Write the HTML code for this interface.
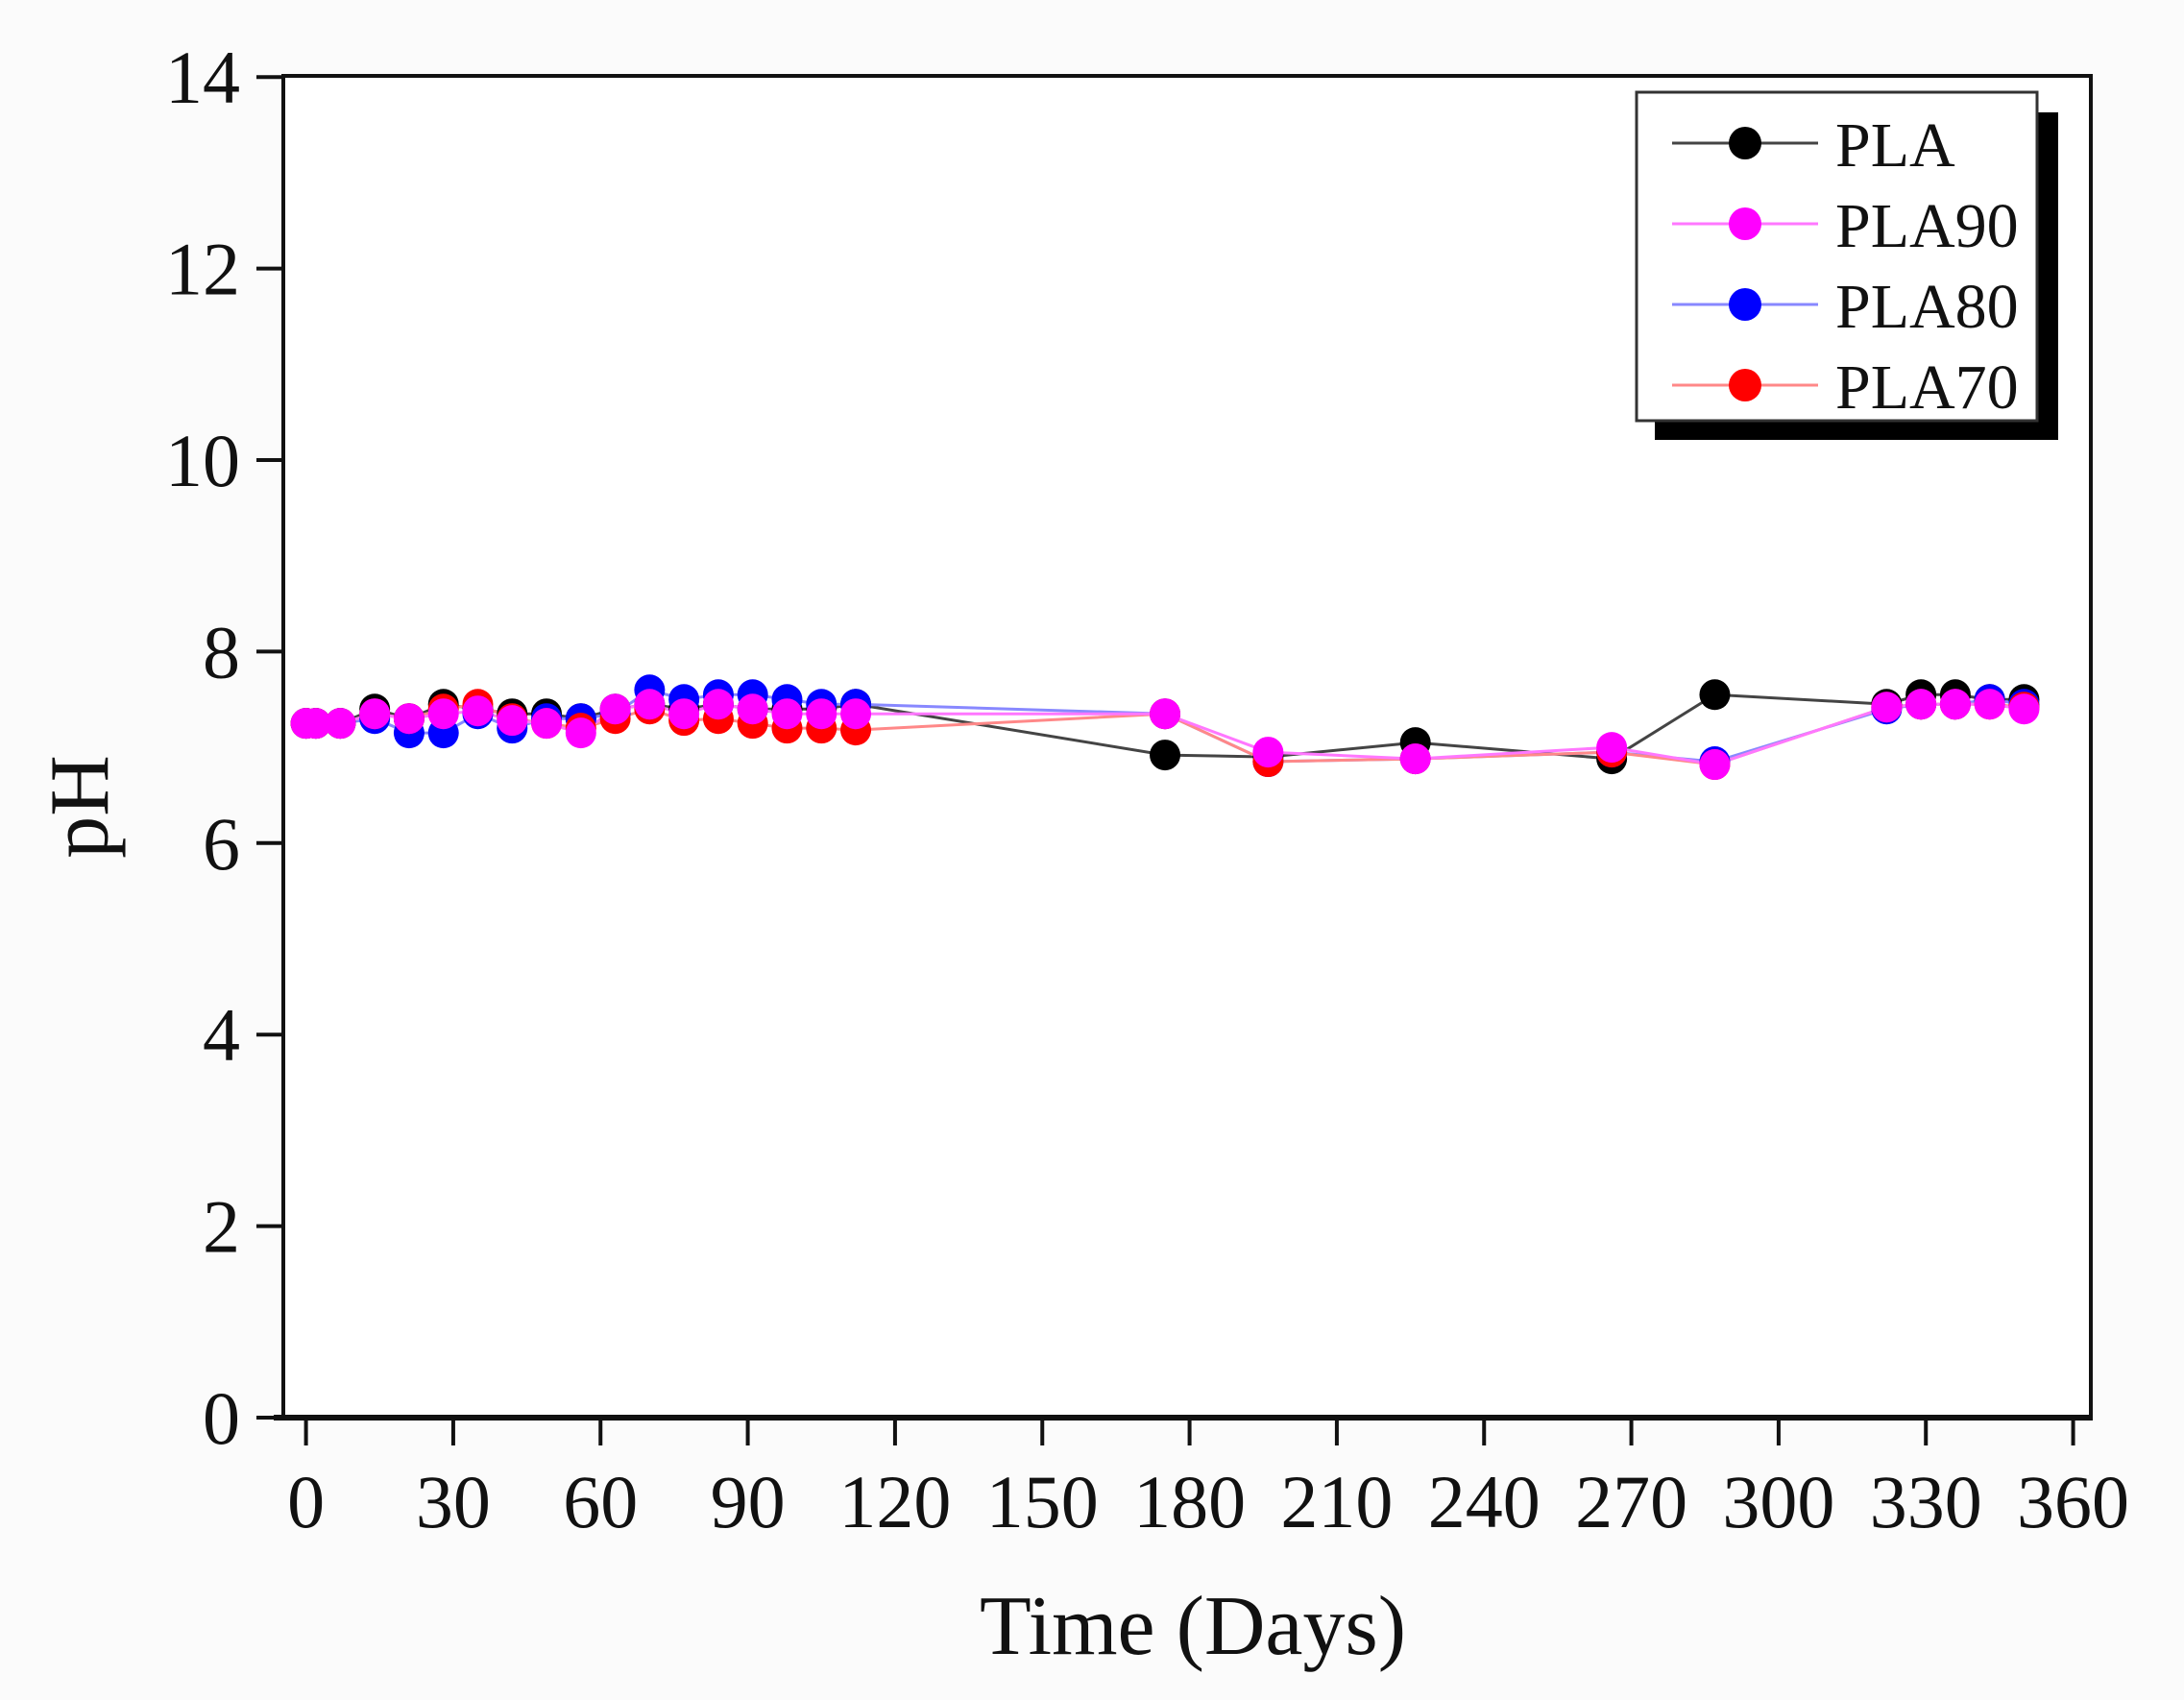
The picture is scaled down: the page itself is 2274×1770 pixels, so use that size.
<!DOCTYPE html>
<html><head><meta charset="utf-8"><style>
html,body{margin:0;padding:0;background:#fbfbfb;}
svg{display:block;font-family:"Liberation Serif",serif;}
</style></head><body>
<svg id="s" width="2274" height="1770" xmlns="http://www.w3.org/2000/svg">
<rect x="295" y="79" width="1882" height="1397" fill="#fff" stroke="#111" stroke-width="4"/>
<g id="ax"></g>
<g id="data"></g>
<text x="1242" y="1722" font-size="88" text-anchor="middle" fill="#111">Time (Days)</text>
<text transform="translate(112,840) rotate(-90)" font-size="88" text-anchor="middle" fill="#111">pH</text>
<rect x="1723" y="117" width="420" height="341" fill="#000"/>
<rect x="1704" y="96" width="417" height="342" fill="#fff" stroke="#333" stroke-width="3"/>
<g id="leg"></g>
</svg>
<script>
const NS="http://www.w3.org/2000/svg";
function el(p,t,a,txt){const e=document.createElementNS(NS,t);for(const k in a)e.setAttribute(k,a[k]);if(txt!==undefined)e.textContent=txt;p.appendChild(e);return e;}
const X=d=>318.6+d*5.111, Y=p=>1476-p*99.7;
const ax=document.getElementById('ax');
el(ax,'line',{x1:285,y1:1476,x2:2179,y2:1476,stroke:'#111','stroke-width':6});
for(let d=0;d<=360;d+=30){el(ax,'line',{x1:X(d),y1:1476,x2:X(d),y2:1505,stroke:'#111','stroke-width':4});
el(ax,'text',{x:X(d),y:1590,'font-size':78,'text-anchor':'middle',fill:'#111'},String(d));}
for(let p=0;p<=14;p+=2){el(ax,'line',{x1:267,y1:Y(p),x2:295,y2:Y(p),stroke:'#111','stroke-width':4});
el(ax,'text',{x:250,y:Y(p)+27,'font-size':78,'text-anchor':'end',fill:'#111'},String(p));}
const days=[0,2,7,14,21,28,35,42,49,56,63,70,77,84,91,98,105,112,175,196,226,266,287,322,329,336,343,350];
const S=[
 ['#000','#444',[7.25,7.25,7.25,7.4,7.3,7.45,7.4,7.35,7.35,7.3,7.4,7.45,7.4,7.45,7.4,7.4,7.4,7.45,6.92,6.9,7.05,6.88,7.55,7.45,7.55,7.55,7.5,7.5]],
 ['#0000ff','#8888ff',[7.25,7.25,7.25,7.3,7.15,7.15,7.35,7.2,7.3,7.3,7.35,7.6,7.5,7.55,7.55,7.5,7.45,7.45,7.35,6.85,6.88,6.95,6.85,7.4,7.45,7.45,7.5,7.45]],
 ['#ff0000','#ff8888',[7.25,7.25,7.25,7.35,7.3,7.4,7.45,7.3,7.25,7.2,7.3,7.4,7.28,7.3,7.25,7.2,7.2,7.18,7.35,6.85,6.88,6.95,6.82,7.42,7.45,7.45,7.45,7.42]],
 ['#ff00ff','#ff77ff',[7.25,7.25,7.25,7.35,7.3,7.35,7.38,7.28,7.25,7.15,7.4,7.45,7.35,7.45,7.4,7.35,7.35,7.35,7.35,6.95,6.88,7.0,6.82,7.42,7.45,7.45,7.45,7.4]]
];
const g=document.getElementById('data');
S.forEach(([c,lc,v])=>{el(g,'polyline',{points:days.map((d,i)=>X(d)+','+Y(v[i])).join(' '),fill:'none',stroke:lc,'stroke-width':3});});
S.forEach(([c,lc,v])=>{days.forEach((d,i)=>el(g,'circle',{cx:X(d),cy:Y(v[i]),r:16,fill:c}));});
const leg=document.getElementById('leg');
const L=[['#000','#444','PLA'],['#ff00ff','#ff77ff','PLA90'],['#0000ff','#8888ff','PLA80'],['#ff0000','#ff8888','PLA70']];
L.forEach(([c,lc,t],i)=>{const y=149+i*84;
el(leg,'line',{x1:1741,y1:y,x2:1893,y2:y,stroke:lc,'stroke-width':3});
el(leg,'circle',{cx:1817,cy:y,r:17,fill:c});
el(leg,'text',{x:1911,y:y+24,'font-size':66,fill:'#111'},t);});
</script>
</body></html>
